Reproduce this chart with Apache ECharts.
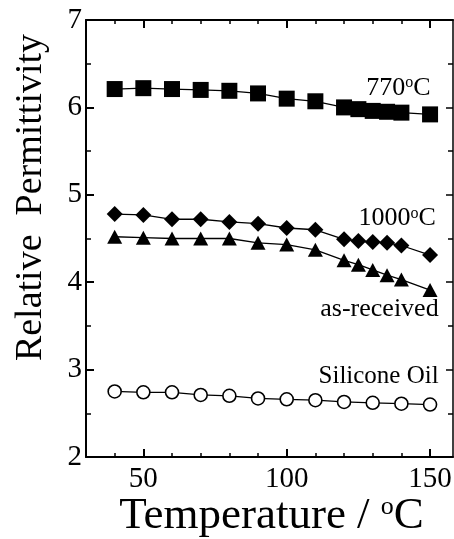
<!DOCTYPE html>
<html>
<head>
<meta charset="utf-8">
<script src="https://cdn.jsdelivr.net/npm/echarts@6/dist/echarts.min.js"></script>
<style>html,body{margin:0;padding:0;background:#fff;}#c{width:454px;height:539px;}</style>
</head>
<body>
<div id="c"></div>
<script>
// ---- data ----
const tempA = [40, 50, 60, 70, 80, 90, 100, 110, 120, 125, 130, 135, 140, 150];
const s770 = [6.21, 6.22, 6.21, 6.20, 6.19, 6.16, 6.10, 6.07, 6.00, 5.98, 5.96, 5.95, 5.94, 5.92];
const s1000 = [4.78, 4.77, 4.72, 4.72, 4.69, 4.67, 4.62, 4.60, 4.49, 4.47, 4.46, 4.45, 4.42, 4.31];
const sAsReceived = [4.52, 4.51, 4.50, 4.50, 4.50, 4.45, 4.43, 4.37, 4.25, 4.20, 4.14, 4.08, 4.03, 3.91];
const tempOil = [40, 50, 60, 70, 80, 90, 100, 110, 120, 130, 140, 150];
const sOil = [2.75, 2.74, 2.74, 2.71, 2.70, 2.67, 2.66, 2.65, 2.63, 2.62, 2.61, 2.60];
const xMajorTicks = [50, 100, 150];
const xMinorTicks = [40, 60, 70, 80, 90, 110, 120, 130, 140];
const seriesNames = ['770{s|o}C', '1000{s|o}C', 'as-received', 'Silicone Oil'];
// annotation anchors in data coordinates (right edge, vertical centre)
const annotX = [150.2, 152.0, 153.0, 153.0];
const annotY = [6.22, 4.73, 3.69, 2.92];

const FONT = '"Liberation Serif", "DejaVu Serif", serif';
const chart = echarts.init(document.getElementById('c'));

function pairs(xs, ys) { return xs.map((x, i) => [x, ys[i]]); }

const baseX = { type: 'value', min: 30, max: 158, gridIndex: 0, splitLine: { show: false } };
const lineStyleAxis = { color: '#000', width: 2 };

const option = {
  animation: false,
  backgroundColor: '#fff',
  grid: { left: 86, right: 1, top: 20, bottom: 82, containLabel: false, outerBoundsMode: 'none' },
  xAxis: [
    Object.assign({}, baseX, {
      position: 'bottom',
      axisLine: { lineStyle: lineStyleAxis },
      axisTick: { inside: true, length: 8, customValues: xMajorTicks, lineStyle: { color: '#000', width: 2 } },
      axisLabel: { customValues: xMajorTicks, fontFamily: FONT, fontSize: 29, color: '#000', margin: 8 },
      name: 'Temperature / {s|o}C',
      nameLocation: 'middle',
      nameGap: 37,
      nameMoveOverlap: false,
      nameTextStyle: {
        fontFamily: FONT, fontSize: 45, color: '#000', padding: [0, 0, 0, 4],
        rich: { s: { fontFamily: FONT, fontSize: 26, color: '#000', verticalAlign: 'top' } }
      }
    }),
    Object.assign({}, baseX, {
      position: 'bottom',
      axisLine: { show: false },
      axisTick: { inside: true, length: 4, customValues: xMinorTicks, lineStyle: { color: '#000', width: 1.5 } },
      axisLabel: { show: false }
    }),
    Object.assign({}, baseX, {
      position: 'top',
      axisLine: { lineStyle: lineStyleAxis },
      axisTick: { inside: true, length: 8, customValues: xMajorTicks, lineStyle: { color: '#000', width: 2 } },
      axisLabel: { show: false }
    }),
    Object.assign({}, baseX, {
      position: 'top',
      axisLine: { show: false },
      axisTick: { inside: true, length: 4, customValues: xMinorTicks, lineStyle: { color: '#000', width: 1.5 } },
      axisLabel: { show: false }
    })
  ],
  yAxis: [
    {
      type: 'value', min: 2, max: 7, interval: 1, position: 'left',
      splitLine: { show: false },
      axisLine: { lineStyle: lineStyleAxis },
      axisTick: { inside: true, length: 8, lineStyle: { color: '#000', width: 2 } },
      minorTick: { show: true, splitNumber: 2, length: 5, lineStyle: { color: '#000', width: 1.5 } },
      axisLabel: { fontFamily: FONT, fontSize: 29, color: '#000', margin: 4 },
      name: 'Relative  Permittivity',
      nameLocation: 'middle',
      nameGap: 36,
      nameMoveOverlap: false,
      nameTextStyle: { fontFamily: FONT, fontSize: 38, color: '#000', padding: [0, 0, 0, 82] }
    },
    {
      type: 'value', min: 2, max: 7, interval: 1, position: 'right',
      splitLine: { show: false },
      axisLine: { lineStyle: { color: '#000', width: 1.5 } },
      axisTick: { inside: true, length: 7, lineStyle: { color: '#000', width: 1.5 } },
      minorTick: { show: true, splitNumber: 2, length: 5, lineStyle: { color: '#000', width: 1.5 } },
      axisLabel: { show: false }
    }
  ],
  series: [
    {
      name: '770C', type: 'line', xAxisIndex: 0, yAxisIndex: 0,
      data: pairs(tempA, s770),
      symbol: 'rect', symbolSize: 16,
      itemStyle: { color: '#000' },
      lineStyle: { color: '#000', width: 1.3 }
    },
    {
      name: '1000C', type: 'line', xAxisIndex: 0, yAxisIndex: 0,
      data: pairs(tempA, s1000),
      symbol: 'diamond', symbolSize: 16,
      itemStyle: { color: '#000' },
      lineStyle: { color: '#000', width: 1.3 }
    },
    {
      name: 'as-received', type: 'line', xAxisIndex: 0, yAxisIndex: 0,
      data: pairs(tempA, sAsReceived),
      symbol: 'triangle', symbolSize: [15, 14],
      itemStyle: { color: '#000' },
      lineStyle: { color: '#000', width: 1.3 }
    },
    {
      name: 'Silicone Oil', type: 'line', xAxisIndex: 0, yAxisIndex: 0,
      data: pairs(tempOil, sOil),
      symbol: 'circle', symbolSize: 13,
      itemStyle: { color: '#fff', borderColor: '#000', borderWidth: 1.6 },
      lineStyle: { color: '#000', width: 1.3 }
    }
  ]
};
chart.setOption(option);

// annotations placed through the axes' scale
const annotFont = [26, 26, 26, 25];
const graphics = seriesNames.map((t, i) => {
  const p = chart.convertToPixel({ xAxisIndex: 0, yAxisIndex: 0 }, [annotX[i], annotY[i]]);
  return {
    type: 'text', x: p[0], y: p[1], z: 10,
    style: {
      text: t, fill: '#000', font: annotFont[i] + 'px ' + FONT, align: 'right', verticalAlign: 'middle',
      rich: { s: { fontFamily: FONT, fontSize: 16, fill: '#000', verticalAlign: 'top' } }
    }
  };
});
chart.setOption({ graphic: graphics });
</script>
</body>
</html>
